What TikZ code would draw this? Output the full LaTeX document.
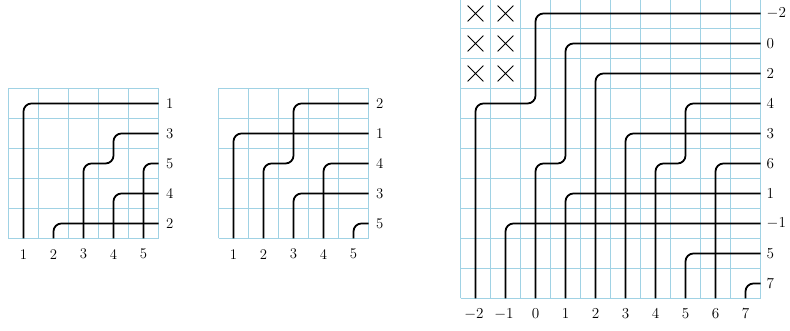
\documentclass[tikz,border=0pt]{standalone}
\usepackage{amsmath, amssymb}
\usepackage{tikz}
\usetikzlibrary{shapes.misc}

\definecolor{gridblue}{RGB}{160,210,228}

\tikzset{
  tiles/.style={gridblue, line width=0.95pt},
  pipe/.style={black, line width=1.7pt, rounded corners=7.5pt},
  xmark/.style={cross out, draw, line width=0.8pt, minimum size=0.5cm, inner sep=0pt},
  rlab/.style={anchor=west, inner sep=0pt, font=\fontsize{14}{16}\selectfont},
  blab/.style={inner sep=0pt, font=\fontsize{14}{16}\selectfont}
}

\begin{document}
\begin{tikzpicture}
        \useasboundingbox (0,0) rectangle (26.333,11.033);

        % Light blue tiles of the three diagrams
        \draw[tiles, step=1cm, shift={(0.2833,3.0833)}] (0,0) grid (5,5);
        \draw[tiles, step=1cm, shift={(7.2833,3.0833)}] (0,0) grid (5,5);
        \draw[tiles, step=1cm, shift={(15.35,1.0833)}] (0,0) grid (10,10);

        % First diagram: 5x5 tiles
        \begin{scope}[shift={(0.2833,3.0833)}]
        % Pipes, entering on the right, leaving at the bottom
        \draw[pipe] (5,4.5) -- (0.5,4.5) -- (0.5,0);
        \draw[pipe] (5,3.5) -- (3.5,3.5) -- (3.5,2.5) -- (2.5,2.5) -- (2.5,0);
        \draw[pipe] (5,2.5) -- (4.5,2.5) -- (4.5,0);
        \draw[pipe] (5,1.5) -- (3.5,1.5) -- (3.5,0);
        \draw[pipe] (5,0.5) -- (1.5,0.5) -- (1.5,0);

        % Add labels
        \node[rlab] (ar1) at (5.25,4.5) {1};
        \node[rlab] (ar2) at (5.25,3.5) {3};
        \node[rlab] (ar3) at (5.25,2.5) {5};
        \node[rlab] (ar4) at (5.25,1.5) {4};
        \node[rlab] (ar5) at (5.25,0.5) {2};
        \node[blab] (ab1) at (0.5,-0.52) {1};
        \node[blab] (ab2) at (1.5,-0.52) {2};
        \node[blab] (ab3) at (2.5,-0.52) {3};
        \node[blab] (ab4) at (3.5,-0.52) {4};
        \node[blab] (ab5) at (4.5,-0.52) {5};
        \end{scope}

        % Second diagram: 5x5 tiles
        \begin{scope}[shift={(7.2833,3.0833)}]
        % Pipes
        \draw[pipe] (5,4.5) -- (2.5,4.5) -- (2.5,2.5) -- (1.5,2.5) -- (1.5,0);
        \draw[pipe] (5,3.5) -- (0.5,3.5) -- (0.5,0);
        \draw[pipe] (5,2.5) -- (3.5,2.5) -- (3.5,0);
        \draw[pipe] (5,1.5) -- (2.5,1.5) -- (2.5,0);
        \draw[pipe] (5,0.5) -- (4.5,0.5) -- (4.5,0);

        % Add labels
        \node[rlab] (br1) at (5.25,4.5) {2};
        \node[rlab] (br2) at (5.25,3.5) {1};
        \node[rlab] (br3) at (5.25,2.5) {4};
        \node[rlab] (br4) at (5.25,1.5) {3};
        \node[rlab] (br5) at (5.25,0.5) {5};
        \node[blab] (bb1) at (0.5,-0.52) {1};
        \node[blab] (bb2) at (1.5,-0.52) {2};
        \node[blab] (bb3) at (2.5,-0.52) {3};
        \node[blab] (bb4) at (3.5,-0.52) {4};
        \node[blab] (bb5) at (4.5,-0.52) {5};
        \end{scope}

        % Third diagram: 10x10 tiles, blocked corner in the top left
        \begin{scope}[shift={(15.35,1.0833)}]
        % Crossed-out tiles (2 columns, 3 rows)
        \node[xmark] (x11) at (0.5,9.5) {};
        \node[xmark] (x12) at (1.5,9.5) {};
        \node[xmark] (x21) at (0.5,8.5) {};
        \node[xmark] (x22) at (1.5,8.5) {};
        \node[xmark] (x31) at (0.5,7.5) {};
        \node[xmark] (x32) at (1.5,7.5) {};

        % Pipes
        \draw[pipe] (10,9.5) -- (2.5,9.5) -- (2.5,6.5) -- (0.5,6.5) -- (0.5,0);
        \draw[pipe] (10,8.5) -- (3.5,8.5) -- (3.5,4.5) -- (2.5,4.5) -- (2.5,0);
        \draw[pipe] (10,7.5) -- (4.5,7.5) -- (4.5,0);
        \draw[pipe] (10,6.5) -- (7.5,6.5) -- (7.5,4.5) -- (6.5,4.5) -- (6.5,0);
        \draw[pipe] (10,5.5) -- (5.5,5.5) -- (5.5,0);
        \draw[pipe] (10,4.5) -- (8.5,4.5) -- (8.5,0);
        \draw[pipe] (10,3.5) -- (3.5,3.5) -- (3.5,0);
        \draw[pipe] (10,2.5) -- (1.5,2.5) -- (1.5,0);
        \draw[pipe] (10,1.5) -- (7.5,1.5) -- (7.5,0);
        \draw[pipe] (10,0.5) -- (9.5,0.5) -- (9.5,0);

        % Add labels
        \node[rlab] (cr1) at (10.2,9.5) {$-2$};
        \node[rlab] (cr2) at (10.2,8.5) {$0$};
        \node[rlab] (cr3) at (10.2,7.5) {$2$};
        \node[rlab] (cr4) at (10.2,6.5) {$4$};
        \node[rlab] (cr5) at (10.2,5.5) {$3$};
        \node[rlab] (cr6) at (10.2,4.5) {$6$};
        \node[rlab] (cr7) at (10.2,3.5) {$1$};
        \node[rlab] (cr8) at (10.2,2.5) {$-1$};
        \node[rlab] (cr9) at (10.2,1.5) {$5$};
        \node[rlab] (cr10) at (10.2,0.5) {$7$};
        \node[blab] (cb1) at (0.45,-0.52) {$-2$};
        \node[blab] (cb2) at (1.45,-0.52) {$-1$};
        \node[blab] (cb3) at (2.5,-0.52) {$0$};
        \node[blab] (cb4) at (3.5,-0.52) {$1$};
        \node[blab] (cb5) at (4.5,-0.52) {$2$};
        \node[blab] (cb6) at (5.5,-0.52) {$3$};
        \node[blab] (cb7) at (6.5,-0.52) {$4$};
        \node[blab] (cb8) at (7.5,-0.52) {$5$};
        \node[blab] (cb9) at (8.5,-0.52) {$6$};
        \node[blab] (cb10) at (9.5,-0.52) {$7$};
        \end{scope}

    \end{tikzpicture}
\end{document}
